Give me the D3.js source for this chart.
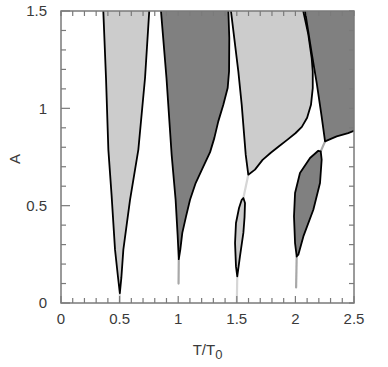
<!DOCTYPE html>
<html>
<head>
<meta charset="utf-8">
<script src="https://cdn.jsdelivr.net/npm/d3@7"></script>
<style>
  html, body { margin: 0; padding: 0; background: #fff; }
  #chart { width: 388px; height: 367px; }
  text { font-family: "Liberation Sans", Arial, Helvetica, sans-serif; fill: #3a3a3a; }
</style>
</head>
<body>
<div id="chart"></div>
<script>
// Stability chart: instability tongues in the (T/T0, A) plane.
// Each region is a closed outline given as [T/T0, A] pairs.

var xDomain = [0, 2.5];
var yDomain = [0, 1.5];
var xTickLabels = [0, 0.5, 1, 1.5, 2, 2.5];
var yTickLabels = [0, 0.5, 1, 1.5];

// light tongue around T/T0 = 0.5
var tongueHalf = [
    [0.358, 1.56], [0.361, 1.5], [0.384, 1.156], [0.404, 0.788], [0.432, 0.55],
    [0.461, 0.274], [0.485, 0.14], [0.502, 0.05], [0.515, 0.13], [0.532, 0.274],
    [0.56, 0.40], [0.589, 0.53], [0.66, 0.788], [0.717, 1.156], [0.753, 1.5], [0.757, 1.56]
];

// dark tongue around T/T0 = 1
var tongueOne = [
    [0.851, 1.56], [0.853, 1.5], [0.9, 1.156], [0.944, 0.762], [0.978, 0.53],
    [0.995, 0.35], [1.005, 0.225], [1.018, 0.274], [1.035, 0.36], [1.067, 0.445],
    [1.101, 0.53], [1.149, 0.616], [1.214, 0.70], [1.272, 0.775], [1.308, 0.847],
    [1.342, 0.933], [1.385, 1.018], [1.422, 1.104], [1.434, 1.19], [1.436, 1.361],
    [1.428, 1.5], [1.427, 1.56]
];

// light upper region starting near T/T0 = 1.5
var upperOneHalf = [
    [1.448, 1.56], [1.45, 1.5], [1.513, 1.19], [1.542, 1.018], [1.576, 0.762],
    [1.598, 0.659], [1.655, 0.685], [1.72, 0.735], [1.79, 0.772], [1.86, 0.805],
    [1.93, 0.838], [2.0, 0.872], [2.055, 0.905], [2.1, 0.952], [2.133, 1.018],
    [2.148, 1.104], [2.148, 1.19], [2.139, 1.258], [2.11, 1.38], [2.067, 1.5], [2.062, 1.56]
];

// light lower island at T/T0 = 1.5
var lowerOneHalf = [
    [1.556, 0.539], [1.57, 0.514], [1.566, 0.44], [1.556, 0.36], [1.527, 0.239],
    [1.504, 0.137], [1.493, 0.188], [1.485, 0.308], [1.493, 0.411], [1.519, 0.488],
    [1.542, 0.53]
];

// dark lower island at T/T0 = 2
var lowerTwo = [
    [2.216, 0.779], [2.224, 0.736], [2.21, 0.616], [2.153, 0.479], [2.068, 0.342],
    [2.025, 0.248], [2.011, 0.239], [1.997, 0.308], [1.988, 0.445], [1.997, 0.565],
    [2.039, 0.668], [2.125, 0.745], [2.195, 0.782]
];

// dark region in the upper right corner
var upperTwo = [
    [2.08, 1.56], [2.082, 1.5], [2.139, 1.284], [2.182, 1.13], [2.224, 0.958],
    [2.253, 0.83], [2.352, 0.856], [2.45, 0.873], [2.5, 0.885], [2.56, 0.89], [2.56, 1.56]
];

var regions = [
    { pts: tongueHalf, shade: 'light' },
    { pts: tongueOne, shade: 'dark' },
    { pts: upperOneHalf, shade: 'light' },
    { pts: lowerOneHalf, shade: 'light' },
    { pts: lowerTwo, shade: 'dark' },
    { pts: upperTwo, shade: 'dark' }
];

// faint traces below the tongue tips and between touching regions
var tails = [
    { pts: [[0.502, 0.05], [0.5, 0.0]], shade: 'light' },
    { pts: [[1.005, 0.225], [1.003, 0.1]], shade: 'dark' },
    { pts: [[1.504, 0.137], [1.5, 0.0]], shade: 'light' },
    { pts: [[1.556, 0.539], [1.598, 0.659]], shade: 'light' },
    { pts: [[2.011, 0.239], [2.006, 0.08]], shade: 'dark' },
    { pts: [[2.216, 0.779], [2.253, 0.83]], shade: 'dark' }
];

(function () {
    var W = 388, H = 367;
    var margin = { top: 11, right: 34, bottom: 64, left: 61 };
    var innerW = W - margin.left - margin.right;
    var innerH = H - margin.top - margin.bottom;

    var fills = { light: '#cccccc', dark: '#808080' };
    var tailColors = { light: '#d6d6d6', dark: '#a8a8a8' };
    var frameColor = '#7a7a7a';

    var svg = d3.select('#chart').append('svg')
        .attr('width', W).attr('height', H);

    var x = d3.scaleLinear().domain(xDomain).range([0, innerW]);
    var y = d3.scaleLinear().domain(yDomain).range([innerH, 0]);

    var g = svg.append('g')
        .attr('transform', 'translate(' + margin.left + ',' + margin.top + ')');

    g.append('clipPath').attr('id', 'plot-clip')
        .append('rect').attr('width', innerW).attr('height', innerH);

    var plot = g.append('g').attr('clip-path', 'url(#plot-clip)');

    var line = d3.line()
        .x(function (d) { return x(d[0]); })
        .y(function (d) { return y(d[1]); });

    tails.forEach(function (t) {
        plot.append('path')
            .attr('d', line(t.pts))
            .attr('fill', 'none')
            .attr('stroke', tailColors[t.shade])
            .attr('stroke-width', 2.2)
            .attr('stroke-linecap', 'round');
    });

    regions.forEach(function (r) {
        plot.append('path')
            .attr('d', line(r.pts) + 'Z')
            .attr('fill', fills[r.shade])
            .attr('stroke', '#000')
            .attr('stroke-width', 1.8)
            .attr('stroke-linejoin', 'round');
    });

    // Ticks on all four sides, pointing inwards
    var xMinor = d3.range(0, 26).map(function (i) { return i / 10; });
    var yMinor = d3.range(0, 16).map(function (i) { return i / 10; });
    function isMajor(v) { return Math.abs(v * 2 - Math.round(v * 2)) < 1e-6; }

    var ticks = g.append('g')
        .attr('stroke', frameColor).attr('stroke-width', 1.2);
    xMinor.forEach(function (v) {
        var len = isMajor(v) ? 7 : 5;
        ticks.append('line')
            .attr('x1', x(v)).attr('x2', x(v))
            .attr('y1', innerH).attr('y2', innerH - len);
        ticks.append('line')
            .attr('x1', x(v)).attr('x2', x(v))
            .attr('y1', 0).attr('y2', 5);
    });
    yMinor.forEach(function (v) {
        var len = isMajor(v) ? 9 : 5;
        ticks.append('line')
            .attr('x1', 0).attr('x2', len)
            .attr('y1', y(v)).attr('y2', y(v));
        ticks.append('line')
            .attr('x1', innerW).attr('x2', innerW - 5)
            .attr('y1', y(v)).attr('y2', y(v));
    });

    g.append('rect')
        .attr('width', innerW).attr('height', innerH)
        .attr('fill', 'none')
        .attr('stroke', frameColor)
        .attr('stroke-width', 1.5);

    // Tick labels
    g.selectAll('.xlab').data(xTickLabels).enter().append('text')
        .attr('class', 'xlab')
        .attr('x', function (d) { return x(d); })
        .attr('y', innerH + 21)
        .attr('text-anchor', 'middle')
        .attr('font-size', 15)
        .text(function (d) { return d3.format('~g')(d); });

    g.selectAll('.ylab').data(yTickLabels).enter().append('text')
        .attr('class', 'ylab')
        .attr('x', -14)
        .attr('y', function (d) { return y(d); })
        .attr('dy', '0.36em')
        .attr('text-anchor', 'end')
        .attr('font-size', 15)
        .text(function (d) { return d3.format('~g')(d); });

    // Axis titles
    svg.append('text')
        .attr('transform', 'translate(20,' + (margin.top + innerH / 2 + 2) + ') rotate(-90)')
        .attr('text-anchor', 'middle')
        .attr('font-size', 15)
        .text('A');

    var xt = svg.append('text')
        .attr('x', margin.left + innerW / 2)
        .attr('y', 355)
        .attr('text-anchor', 'middle')
        .attr('font-size', 15);
    xt.append('tspan').text('T/T');
    xt.append('tspan').attr('dy', 4).attr('font-size', 13).text('0');
})();
</script>
</body>
</html>
